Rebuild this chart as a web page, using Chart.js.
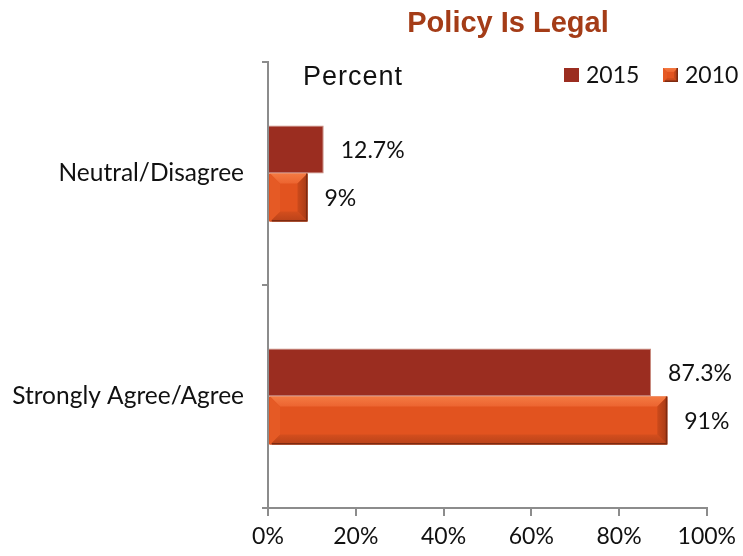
<!DOCTYPE html>
<html>
<head>
<meta charset="utf-8">
<script src="https://cdn.jsdelivr.net/npm/chart.js@4.4.1/dist/chart.umd.min.js"></script>
<style>
  html, body { margin: 0; padding: 0; background: #ffffff; }
  #wrap { width: 743px; height: 556px; position: relative; }
</style>
</head>
<body>
<div id="wrap"><canvas id="c" width="743" height="556"></canvas></div>
<script>
const categories = ["Neutral/Disagree", "Strongly Agree/Agree"];
const seriesNames = ["2015", "2010"];
const values2015 = [12.7, 87.3];
const values2010 = [9, 91];
const valueLabels2015 = ["12.7%", "87.3%"];
const valueLabels2010 = ["9%", "91%"];
const xTicks = [0, 20, 40, 60, 80, 100];
const titleText = "Policy Is Legal";
const unitText = "Percent";

const C2015 = "#9B2D20";
const C2010 = "#E2531F";
const LABEL_FONT = "Lato";

function bevel(ctx, l, t, r, b, w) {
  ctx.save();
  const poly = (pts, color) => {
    ctx.beginPath();
    ctx.moveTo(pts[0][0], pts[0][1]);
    for (let i = 1; i < pts.length; i++) ctx.lineTo(pts[i][0], pts[i][1]);
    ctx.closePath();
    ctx.fillStyle = color;
    ctx.fill();
  };
  const gT = ctx.createLinearGradient(0, t, 0, t + w);
  gT.addColorStop(0, "#F47A42"); gT.addColorStop(1, "#EC6430");
  poly([[l, t], [r, t], [r - w, t + w], [l + w, t + w]], gT);
  const gB = ctx.createLinearGradient(0, b - w, 0, b);
  gB.addColorStop(0, "#D44E1D"); gB.addColorStop(1, "#B8421A");
  poly([[l, b], [r, b], [r - w, b - w], [l + w, b - w]], gB);
  poly([[l, t], [l, b], [l + w, b - w], [l + w, t + w]], "#E55A25");
  const gR = ctx.createLinearGradient(r - w, 0, r, 0);
  gR.addColorStop(0, "#CC4A1B"); gR.addColorStop(1, "#A63A16");
  poly([[r, t], [r, b], [r - w, b - w], [r - w, t + w]], gR);
  ctx.strokeStyle = "#7E2A10";
  ctx.lineWidth = 1.5;
  ctx.beginPath();
  ctx.moveTo(r - 0.75, t);
  ctx.lineTo(r - 0.75, b - 0.75);
  ctx.lineTo(l + 2, b - 0.75);
  ctx.stroke();
  ctx.restore();
}

const extras = {
  id: "extras",
  afterDatasetsDraw(chart) {
    const ctx = chart.ctx;
    chart.getDatasetMeta(1).data.forEach(el => {
      const p = el.getProps(["x", "y", "base", "height"], true);
      const l = Math.min(p.base, p.x), r = Math.max(p.base, p.x);
      bevel(ctx, l + 1, p.y - p.height / 2, r, p.y + p.height / 2, 10);
    });
    ctx.save();
    ctx.font = "23px " + LABEL_FONT;
    ctx.fillStyle = "#111111";
    ctx.textAlign = "left";
    ctx.textBaseline = "middle";
    const lbls = [valueLabels2015, valueLabels2010];
    [0, 1].forEach(di => {
      chart.getDatasetMeta(di).data.forEach((el, i) => {
        const p = el.getProps(["x", "y"], true);
        ctx.fillText(lbls[di][i], p.x + 17, p.y + 1);
      });
    });
    ctx.restore();
  },
  afterDraw(chart) {
    const ctx = chart.ctx;
    ctx.save();
    ctx.font = "bold 29px 'Liberation Sans', Arial, sans-serif";
    ctx.fillStyle = "#A43C17";
    ctx.textAlign = "center";
    ctx.textBaseline = "alphabetic";
    ctx.fillText(titleText, 508, 32);
    ctx.font = "27px 'Liberation Sans', Arial, sans-serif";
    ctx.fillStyle = "#111111";
    ctx.textAlign = "left";
    try { ctx.letterSpacing = "1px"; } catch (e) {}
    ctx.fillText(unitText, 303, 85);
    try { ctx.letterSpacing = "0px"; } catch (e) {}
    const items = [
      { x: 564, color: C2015, label: chart.data.datasets[0].label, bev: false },
      { x: 663, color: C2010, label: chart.data.datasets[1].label, bev: true }
    ];
    ctx.font = "23px " + LABEL_FONT;
    ctx.textBaseline = "middle";
    items.forEach(it => {
      ctx.fillStyle = it.color;
      ctx.fillRect(it.x, 68, 15, 14);
      if (it.bev) bevel(ctx, it.x, 68, it.x + 15, 82, 4);
      ctx.fillStyle = "#111111";
      ctx.fillText(it.label, it.x + 22, 75.5);
    });
    ctx.restore();
  }
};

new Chart(document.getElementById("c"), {
  type: "bar",
  data: {
    labels: categories,
    datasets: [
      { label: seriesNames[0], data: values2015, backgroundColor: C2015, borderColor: "#C88A7E", borderWidth: 1, categoryPercentage: 0.43, barPercentage: 1.0 },
      { label: seriesNames[1], data: values2010, backgroundColor: C2010, borderWidth: 0, categoryPercentage: 0.43, barPercentage: 1.0 }
    ]
  },
  options: {
    indexAxis: "y",
    responsive: false,
    animation: false,
    layout: { padding: { top: 62, right: 36, left: 0, bottom: 0 } },
    plugins: {
      legend: { display: false },
      title: { display: false },
      tooltip: { enabled: false }
    },
    scales: {
      x: {
        min: 0, max: 100,
        afterFit(s) { s.height = 48; },
        afterBuildTicks(s) { s.ticks = xTicks.map(v => ({ value: v })); },
        ticks: {
          callback: v => v + "%",
          font: { family: LABEL_FONT, size: 23 },
          color: "#111111",
          padding: 7,
          maxRotation: 0
        },
        grid: { display: true, drawOnChartArea: false, drawTicks: true, tickLength: 8, color: "#8C8C8C", lineWidth: 2 },
        border: { display: true, color: "#8C8C8C", width: 2 }
      },
      y: {
        afterFit(s) { s.width = 268; },
        ticks: {
          font: { family: LABEL_FONT, size: 24.5 },
          color: "#111111",
          padding: 18
        },
        grid: { display: true, offset: true, drawOnChartArea: false, drawTicks: true, tickLength: 6, color: "#8C8C8C", lineWidth: 2 },
        border: { display: true, color: "#8C8C8C", width: 2 }
      }
    }
  },
  plugins: [extras]
});
</script>
</body>
</html>
